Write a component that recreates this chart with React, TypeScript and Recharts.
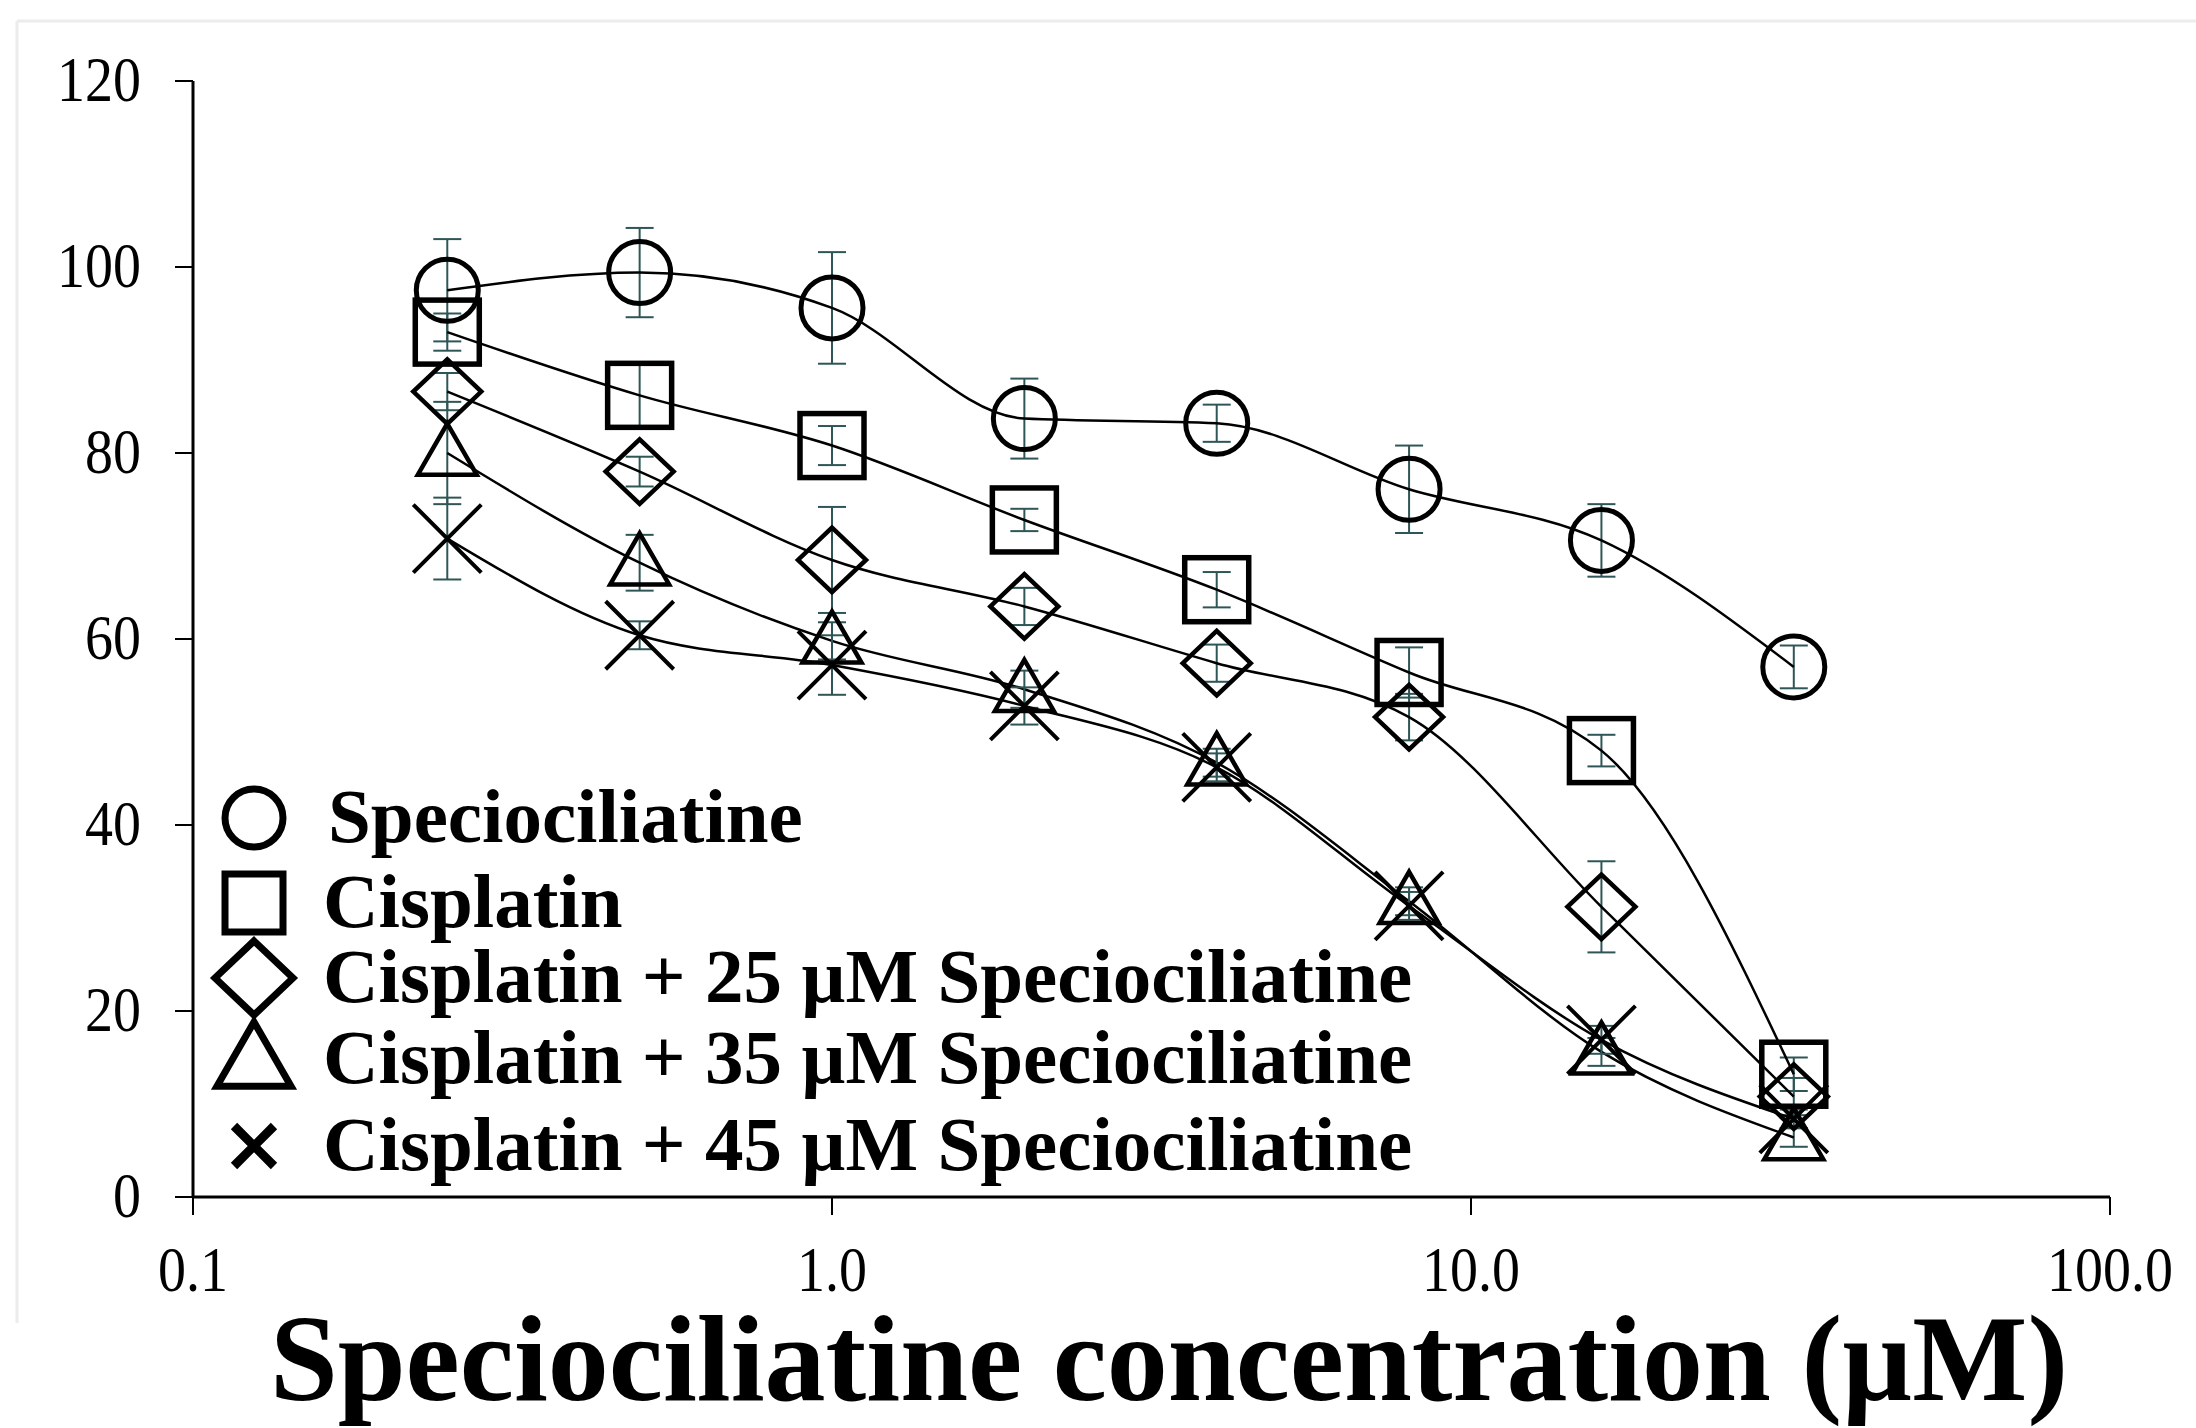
import { LineChart, Line, XAxis, YAxis, ErrorBar } from 'recharts';

const concentrations = [0.25, 0.5, 1, 2, 4, 8, 16, 32];

const specioValues = [97.5, 99.4, 95.6, 83.7, 83.2, 76.1, 70.6, 57.0];
const specioErrors = [5.5, 4.8, 6.0, 4.3, 2.0, 4.7, 3.9, 2.3];

const cisValues = [93.0, 86.2, 80.8, 72.8, 65.3, 56.4, 48.0, 13.2];
const cisErrors = [2.0, 3.5, 2.1, 1.2, 1.9, 2.7, 1.7, 1.8];

const cis25Values = [86.6, 78.0, 68.5, 63.5, 57.4, 51.6, 31.2, 10.8];
const cis25Errors = [2.0, 1.6, 5.7, 2.0, 2.0, 2.5, 4.9, 2.0];

const cis35Values = [80.0, 68.2, 59.8, 54.6, 46.7, 31.8, 15.6, 6.4];
const cis35Errors = [5.5, 3.0, 2.0, 2.0, 1.5, 1.5, 1.5, 1.0];

const cis45Values = [70.8, 60.4, 57.2, 52.8, 46.2, 31.3, 16.9, 8.4];
const cis45Errors = [4.4, 1.5, 3.2, 2.0, 1.5, 1.5, 1.5, 1.0];

const xTicks = [0.1, 1, 10, 100];
const yTicks = [0, 20, 40, 60, 80, 100, 120];

const legendLabels = [
  'Speciociliatine',
  'Cisplatin',
  'Cisplatin + 25 µM Speciociliatine',
  'Cisplatin + 35 µM Speciociliatine',
  'Cisplatin + 45 µM Speciociliatine',
];
const xTitle = 'Speciociliatine concentration (µM)';

const rows = (vals: number[], errs: number[]) =>
  concentrations.map((x, i) => ({ x, y: vals[i], e: errs[i] }));

const SERIF = "'Liberation Serif', 'Times New Roman', serif";
const ERR = '#2f5656';

type Shape = 'circle' | 'square' | 'diamond' | 'triangle' | 'cross';

function marker(shape: Shape, cx: number, cy: number, s: number, sw: number, key?: string) {
  const h = s / 2;
  const common = { fill: 'none', stroke: '#000', strokeWidth: sw, key };
  if (shape === 'circle') return <circle cx={cx} cy={cy} r={h} {...common} />;
  if (shape === 'square') return <rect x={cx - h} y={cy - h} width={s} height={s} {...common} />;
  if (shape === 'diamond')
    return <polygon points={`${cx},${cy - h * 0.95} ${cx + h},${cy} ${cx},${cy + h * 0.95} ${cx - h},${cy}`} {...common} />;
  if (shape === 'triangle')
    return <polygon points={`${cx},${cy - h * 0.95} ${cx + h * 0.95},${cy + h * 0.7} ${cx - h * 0.95},${cy + h * 0.7}`} {...common} />;
  return (
    <path d={`M${cx - h},${cy - h} L${cx + h},${cy + h} M${cx + h},${cy - h} L${cx - h},${cy + h}`} {...common} />
  );
}

const dotFor = (shape: Shape, size: number, sw: number) => (p: any) =>
  marker(shape, p.cx, p.cy, size, sw, `${shape}-${p.index}`);

// tick text is a bit tall and narrow in the original, stretch it vertically
const XTick = ({ x, y, payload }: any) => {
  const v = payload.value;
  const label = v < 1 ? String(v) : Number(v).toFixed(1);
  return (
    <text transform={`translate(${x},${y + 76}) scale(1,1.12)`} textAnchor="middle" fontFamily={SERIF} fontSize={56} fill="#000">
      {label}
    </text>
  );
};

const YTick = ({ x, y, payload }: any) => (
  <text transform={`translate(${x},${y + 20}) scale(1,1.12)`} textAnchor="end" fontFamily={SERIF} fontSize={56} fill="#000">
    {payload.value}
  </text>
);

const series: { name: string; vals: number[]; errs: number[]; shape: Shape; size: number; sw: number }[] = [
  { name: 'specio', vals: specioValues, errs: specioErrors, shape: 'circle', size: 62, sw: 5 },
  { name: 'cis', vals: cisValues, errs: cisErrors, shape: 'square', size: 64, sw: 5.5 },
  { name: 'cis25', vals: cis25Values, errs: cis25Errors, shape: 'diamond', size: 68, sw: 4.5 },
  { name: 'cis35', vals: cis35Values, errs: cis35Errors, shape: 'triangle', size: 62, sw: 4.5 },
  { name: 'cis45', vals: cis45Values, errs: cis45Errors, shape: 'cross', size: 68, sw: 4 },
];

const legendShapes: Shape[] = ['circle', 'square', 'diamond', 'triangle', 'cross'];
const legendY = [842, 927, 1002, 1083, 1170];

export default function App() {
  return (
    <div style={{ position: 'absolute', left: 0, top: 0, width: 2196, height: 1428, background: '#fff' }}>
      <LineChart width={2196} height={1428} margin={{ top: 81, right: 86, left: 73, bottom: 131 }}>
        <XAxis
          dataKey="x"
          type="number"
          scale="log"
          domain={[0.1, 100]}
          ticks={xTicks}
          allowDataOverflow
          height={100}
          tick={<XTick />}
          axisLine={{ stroke: '#000', strokeWidth: 3 }}
          tickLine={{ stroke: '#000', strokeWidth: 2 }}
          tickSize={18}
          tickMargin={0}
        />
        <YAxis
          type="number"
          domain={[0, 120]}
          ticks={yTicks}
          width={120}
          tick={<YTick />}
          axisLine={{ stroke: '#000', strokeWidth: 3 }}
          tickLine={{ stroke: '#000', strokeWidth: 2 }}
          tickSize={18}
          tickMargin={34}
        />
        {series.map((s) => (
          <Line
            key={s.name}
            data={rows(s.vals, s.errs)}
            dataKey="y"
            type="monotone"
            stroke="#000"
            strokeWidth={2.5}
            dot={dotFor(s.shape, s.size, s.sw)}
            activeDot={false}
            isAnimationActive={false}
          >
            <ErrorBar dataKey="e" direction="y" width={14} stroke={ERR} strokeWidth={2} />
          </Line>
        ))}
      </LineChart>
      <svg
        width={2196}
        height={1428}
        style={{ position: 'absolute', left: 0, top: 0, pointerEvents: 'none' }}
      >
        <line x1={17} y1={21} x2={2196} y2={21} stroke="#ececec" strokeWidth={3} />
        <line x1={17} y1={21} x2={17} y2={1323} stroke="#ececec" strokeWidth={3} />
        {legendLabels.map((label, i) => (
          <g key={label}>
            {marker(legendShapes[i], 254, legendY[i] - 24, legendShapes[i] === 'cross' ? 40 : legendShapes[i] === 'diamond' || legendShapes[i] === 'triangle' ? 78 : 58, legendShapes[i] === 'cross' ? 9 : 7)}
            <text x={i === 0 ? 328 : 323} y={legendY[i]} fontFamily={SERIF} fontWeight="bold" fontSize={77} fill="#000">
              {label}
            </text>
          </g>
        ))}
        <text x={1169} y={1400} textAnchor="middle" fontFamily={SERIF} fontWeight="bold" fontSize={122} fill="#000">
          {xTitle}
        </text>
      </svg>
    </div>
  );
}
